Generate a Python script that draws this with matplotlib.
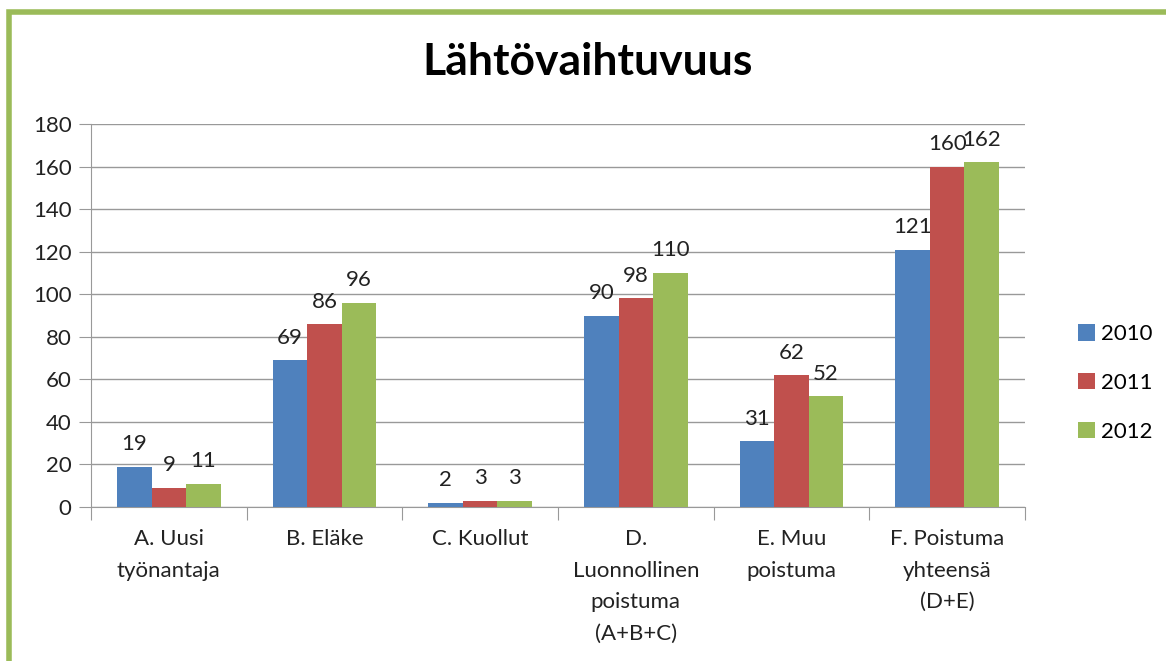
import numpy as np
import matplotlib.pyplot as plt
from matplotlib.patches import Rectangle

categories = ['A. Uusi\ntyönantaja', 'B. Eläke', 'C. Kuollut',
              'D.\nLuonnollinen\npoistuma\n(A+B+C)', 'E. Muu\npoistuma',
              'F. Poistuma\nyhteensä\n(D+E)']
years = ['2010', '2011', '2012']
v2010 = [19, 69, 2, 90, 31, 121]
v2011 = [9, 86, 3, 98, 62, 160]
v2012 = [11, 96, 3, 110, 52, 162]
colors = ['#4F81BD', '#C0504D', '#9BBB59']

plt.rcParams['font.family'] = ['Lato', 'DejaVu Sans']

fig = plt.figure(figsize=(11.66, 6.61), dpi=100)
ax = fig.add_axes([91/1166, 1-507/661, (1025-91)/1166, (507-124)/661])

x = np.arange(len(categories))
w = 0.222
series = [v2010, v2011, v2012]
for i, (vals, c, yr) in enumerate(zip(series, colors, years)):
    bars = ax.bar(x + (i-1)*w, vals, w, color=c, label=yr, zorder=3)
    for b, v in zip(bars, vals):
        ax.annotate(str(v), (b.get_x()+b.get_width()/2, v), xytext=(0, 9),
                    textcoords='offset points', ha='center', va='bottom', fontsize=16, color='#222222')

ax.set_xlim(-0.5, len(categories)-0.5)
ax.set_ylim(0, 180)
ax.set_yticks(range(0, 181, 20))
ax.yaxis.grid(True, color='#999999', linewidth=1, zorder=0)
for s in ['top', 'right']:
    ax.spines[s].set_visible(False)
for s in ['left', 'bottom']:
    ax.spines[s].set_color('#999999')
ax.set_xticks(np.arange(-0.5, len(categories)), minor=False)
ax.set_xticklabels([])
ax.set_xticks(x, minor=True)
ax.set_xticklabels(categories, minor=True, fontsize=16, color='#222222', linespacing=1.72, va='top')
ax.tick_params(axis='x', which='minor', length=0, pad=16)
ax.tick_params(axis='x', which='major', length=9, color='#999999')
ax.tick_params(axis='y', length=9, color='#999999', labelsize=16, labelcolor='#222222', pad=5)

fig.text(588/1166, 1-62/661, 'Lähtövaihtuvuus', ha='center', va='center', fontsize=32, fontweight='bold')

ax.legend(loc='center left', bbox_to_anchor=(1058/1166, 1-383/661), bbox_transform=fig.transFigure,
          frameon=False, fontsize=16, handlelength=0.75, handleheight=0.75, labelspacing=1.3,
          handletextpad=0.3)

fig.patches.append(Rectangle((9/1166, -0.01), 1.1, 1-12/661+0.01, transform=fig.transFigure,
                             fill=False, edgecolor='#9BBB59', linewidth=4))

fig.savefig('out.png', dpi=100)
